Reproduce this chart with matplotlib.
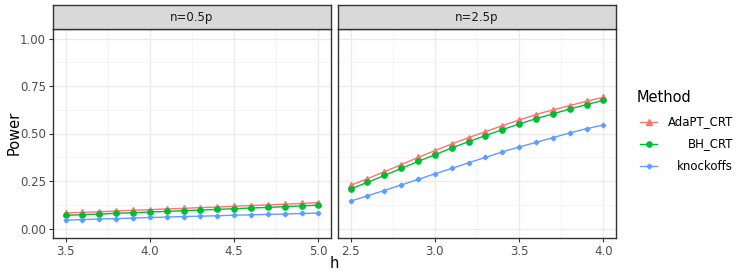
import numpy as np
import matplotlib
matplotlib.use("Agg")
import matplotlib.pyplot as plt
from matplotlib.lines import Line2D
from matplotlib.ticker import MultipleLocator, FormatStrFormatter

# h values for each facet
h_small = [3.5, 3.6, 3.7, 3.8, 3.9, 4.0, 4.1, 4.2, 4.3, 4.4, 4.5, 4.6, 4.7, 4.8, 4.9, 5.0]
h_large = [2.5, 2.6, 2.7, 2.8, 2.9, 3.0, 3.1, 3.2, 3.3, 3.4, 3.5, 3.6, 3.7, 3.8, 3.9, 4.0]

# n=0.5p
adapt_small = [0.081, 0.085, 0.088, 0.092, 0.096, 0.099, 0.103, 0.106, 0.110, 0.113, 0.117, 0.121, 0.124, 0.128, 0.132, 0.136]
bh_small = [0.069, 0.073, 0.076, 0.080, 0.083, 0.087, 0.090, 0.094, 0.097, 0.101, 0.104, 0.108, 0.111, 0.115, 0.119, 0.123]
ko_small = [0.044, 0.047, 0.050, 0.052, 0.055, 0.058, 0.060, 0.063, 0.065, 0.067, 0.070, 0.072, 0.074, 0.076, 0.079, 0.081]

# n=2.5p
adapt_large = [0.227, 0.262, 0.299, 0.336, 0.374, 0.410, 0.445, 0.478, 0.510, 0.541, 0.571, 0.600, 0.624, 0.647, 0.670, 0.690]
bh_large = [0.208, 0.243, 0.279, 0.316, 0.353, 0.388, 0.424, 0.457, 0.489, 0.520, 0.550, 0.578, 0.603, 0.629, 0.652, 0.675]
ko_large = [0.144, 0.172, 0.200, 0.229, 0.258, 0.288, 0.316, 0.346, 0.374, 0.403, 0.429, 0.453, 0.478, 0.503, 0.525, 0.545]

facets = ["n=0.5p", "n=2.5p"]
methods = ["AdaPT_CRT", "BH_CRT", "knockoffs"]
colors = ["#F8766D", "#00BA38", "#619CFF"]
markers = ["^", "o", "D"]
msizes = [4.2, 3.8, 2.4]

data = [
    (h_small, [adapt_small, bh_small, ko_small]),
    (h_large, [adapt_large, bh_large, ko_large]),
]

W, H = 747, 280
fig = plt.figure(figsize=(W / 100, H / 100), dpi=100)
panel_left = [53 / W, 338 / W]
panel_w = 278 / W
bottom = 1 - 238 / H
top = 1 - 29 / H
strip_top = 1 - 5 / H

for i, (xs, series) in enumerate(data):
    ax = fig.add_axes([panel_left[i], bottom, panel_w, top - bottom])
    ax.set_facecolor("white")
    for ys, c, m, ms in zip(series, colors, markers, msizes):
        ax.plot(xs, ys, color=c, marker=m, markersize=ms, linewidth=1.0, zorder=3)
    rng = xs[-1] - xs[0]
    ax.set_xlim(xs[0] - 0.05 * rng, xs[-1] + 0.05 * rng)
    ax.set_ylim(-0.05, 1.05)
    ax.xaxis.set_major_locator(MultipleLocator(0.5))
    ax.xaxis.set_minor_locator(MultipleLocator(0.25))
    ax.yaxis.set_major_locator(MultipleLocator(0.25))
    ax.yaxis.set_minor_locator(MultipleLocator(0.125))
    ax.grid(which="major", color="#EBEBEB", linewidth=1.0, zorder=0)
    ax.grid(which="minor", color="#F2F2F2", linewidth=0.5, zorder=0)
    ax.set_axisbelow(True)
    for s in ax.spines.values():
        s.set_color("#333333")
        s.set_linewidth(1.0)
    ax.tick_params(which="major", length=3, width=0.8, color="#333333",
                   labelsize=8.5, labelcolor="#4D4D4D", pad=2)
    ax.tick_params(which="minor", length=0)
    ax.xaxis.set_major_formatter(FormatStrFormatter("%.1f"))
    ax.yaxis.set_major_formatter(FormatStrFormatter("%.2f"))
    if i == 1:
        ax.tick_params(axis="y", labelleft=False, length=0)

    # facet strip
    sax = fig.add_axes([panel_left[i], top, panel_w, strip_top - top])
    sax.set_facecolor("#D9D9D9")
    sax.set_xticks([])
    sax.set_yticks([])
    for s in sax.spines.values():
        s.set_color("#333333")
        s.set_linewidth(1.0)
    sax.text(0.5, 0.5, facets[i], ha="center", va="center", fontsize=8.5,
             color="#1A1A1A", transform=sax.transAxes)

fig.text(334.5 / W, 1 - 264 / H, "h", ha="center", va="center", fontsize=10.5)
fig.text(14 / W, 1 - 133 / H, "Power", rotation=90, ha="center", va="center", fontsize=10.5)

# legend drawn by hand so the labels can be right-aligned like the original
lax = fig.add_axes([0, 0, 1, 1], facecolor="none")
lax.set_xlim(0, W)
lax.set_ylim(H, 0)
lax.axis("off")
lax.text(637, 97, "Method", fontsize=10.5, ha="left", va="center")
for k, (lab, c, m, ms) in enumerate(zip(methods, colors, markers, msizes)):
    y = [122, 144, 166][k]
    lax.plot([640, 657], [y, y], color=c, linewidth=1.0)
    lax.plot([648.5], [y], color=c, marker=m, markersize=ms)
    lax.text(733, y, lab, fontsize=8.5, ha="right", va="center")

fig.savefig("out.png", dpi=100)
